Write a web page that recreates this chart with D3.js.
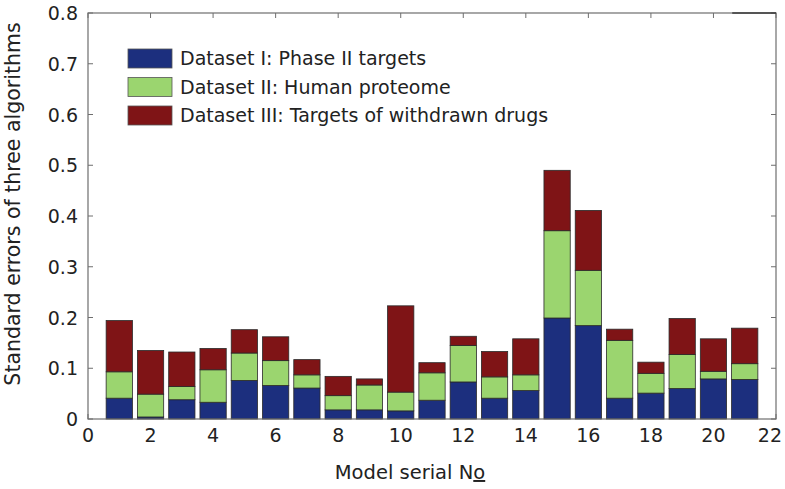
<!DOCTYPE html>
<html>
<head>
<meta charset="utf-8">
<script src="https://cdn.jsdelivr.net/npm/d3@7"></script>
<style>
  html, body { margin: 0; padding: 0; background: #fff; }
  svg { display: block; }
  text { font-family: "DejaVu Sans", sans-serif; fill: #222; }
</style>
</head>
<body>
<svg id="chart" width="785" height="489"></svg>
<script>
// ---- data ----
const models = d3.range(1, 22);
const seriesNames = ["Dataset I: Phase II targets", "Dataset II: Human proteome", "Dataset III: Targets of withdrawn drugs"];
const dataset1 = [0.041,0.004,0.038,0.033,0.076,0.066,0.061,0.018,0.018,0.016,0.037,0.073,0.041,0.056,0.199,0.184,0.041,0.051,0.060,0.079,0.078];
const dataset2 = [0.052,0.045,0.026,0.064,0.054,0.049,0.026,0.028,0.049,0.037,0.054,0.072,0.042,0.031,0.172,0.109,0.114,0.039,0.067,0.015,0.031];
const dataset3 = [0.101,0.086,0.068,0.042,0.046,0.047,0.030,0.038,0.012,0.170,0.020,0.018,0.050,0.071,0.119,0.118,0.022,0.022,0.071,0.064,0.070];
const xTicks = d3.range(0, 23, 2);
const yTicks = [0, 0.1, 0.2, 0.3, 0.4, 0.5, 0.6, 0.7, 0.8];
const colors = ["#1c2f7e", "#9bd56f", "#7f1416"];

// ---- layout ----
const pLeft = 88, pRight = 776, pTop = 13, pBottom = 419;
const svg = d3.select("#chart");
const x = d3.scaleLinear().domain([0, 22]).range([pLeft, pRight]);
const y = d3.scaleLinear().domain([0, 0.8]).range([pBottom, pTop]);
const barW = x(0.84) - x(0);

const rows = models.map((m, i) => ({ m, s0: dataset1[i], s1: dataset2[i], s2: dataset3[i] }));
const stack = d3.stack().keys(["s0", "s1", "s2"]);
const layers = stack(rows);

const axisColor = "#6e6e6e";
const tickLen = 5;

// inward ticks (drawn first)
const tg = svg.append("g").attr("stroke", axisColor).attr("stroke-width", 1);
xTicks.forEach(t => {
  tg.append("line").attr("x1", x(t)).attr("x2", x(t)).attr("y1", pBottom).attr("y2", pBottom - tickLen);
  tg.append("line").attr("x1", x(t)).attr("x2", x(t)).attr("y1", pTop).attr("y2", pTop + tickLen);
});
yTicks.forEach(t => {
  tg.append("line").attr("x1", pLeft).attr("x2", pLeft + tickLen).attr("y1", y(t)).attr("y2", y(t));
  tg.append("line").attr("x1", pRight).attr("x2", pRight - tickLen).attr("y1", y(t)).attr("y2", y(t));
});

// bars
layers.forEach((layer, k) => {
  svg.append("g")
    .selectAll("rect")
    .data(layer)
    .join("rect")
    .attr("x", d => x(d.data.m) - barW / 2)
    .attr("width", barW)
    .attr("y", d => y(d[1]))
    .attr("height", d => y(d[0]) - y(d[1]))
    .attr("fill", colors[k])
    .attr("stroke", "#2a2a2a")
    .attr("stroke-width", 0.8);
});

// frame
svg.append("rect")
  .attr("x", pLeft).attr("y", pTop)
  .attr("width", pRight - pLeft).attr("height", pBottom - pTop)
  .attr("fill", "none").attr("stroke", axisColor).attr("stroke-width", 1.2);
svg.append("line")
  .attr("x1", x(20.6)).attr("x2", pRight).attr("y1", pTop).attr("y2", pTop)
  .attr("stroke", "#3a3a3a").attr("stroke-width", 1.6);

// tick labels
const lastX = xTicks[xTicks.length - 1];
svg.append("g").selectAll("text")
  .data(xTicks).join("text")
  .attr("x", d => d === lastX ? 782 : x(d)).attr("y", pBottom + 23)
  .attr("text-anchor", d => d === lastX ? "end" : "middle")
  .attr("font-size", 19)
  .text(d => d);

svg.append("g").selectAll("text")
  .data(yTicks).join("text")
  .attr("x", pLeft - 10).attr("y", d => y(d) + 7)
  .attr("text-anchor", "end")
  .attr("font-size", 19)
  .text(d => d === 0 ? "0" : d.toFixed(1));

// axis titles
const xl = svg.append("text")
  .attr("x", 410).attr("y", 479)
  .attr("text-anchor", "middle")
  .attr("font-size", 19.5);
xl.append("tspan").text("Model serial N");
xl.append("tspan").attr("text-decoration", "underline").text("o");

svg.append("text")
  .attr("transform", "translate(20,204) rotate(-90)")
  .attr("text-anchor", "middle")
  .attr("font-size", 20.5)
  .text("Standard errors of three algorithms");

// legend
const lg = svg.append("g").attr("transform", "translate(128,49)");
seriesNames.forEach((name, k) => {
  lg.append("rect")
    .attr("x", 0).attr("y", k * 28.5)
    .attr("width", 44).attr("height", 19)
    .attr("fill", colors[k]).attr("stroke", "#555").attr("stroke-width", 0.8);
  lg.append("text")
    .attr("x", 52).attr("y", k * 28.5 + 16)
    .attr("font-size", 19)
    .text(name);
});
</script>
</body>
</html>
